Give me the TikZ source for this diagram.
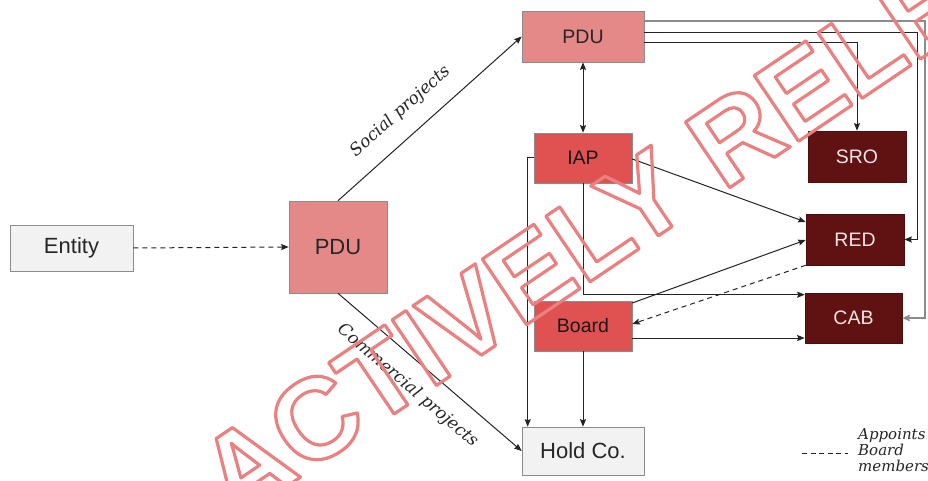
\documentclass[tikz,border=0pt]{standalone}
\usepackage{fontspec}
\setmainfont{Liberation Sans}
\newfontfamily\labelfont{DejaVu Serif}
\newfontfamily\wmfont{Liberation Sans}
\usetikzlibrary{arrows.meta,calc}
\definecolor{pduc}{RGB}{228,136,136}
\definecolor{iapc}{RGB}{224,82,82}
\definecolor{darkc}{RGB}{96,18,18}
\definecolor{darktext}{RGB}{242,228,228}
\definecolor{greyc}{RGB}{242,242,242}
\definecolor{wmc}{RGB}{234,128,128}
\definecolor{linec}{RGB}{35,35,35}
\tikzset{
  box/.style={draw=black!45, line width=0.6pt, inner sep=0pt, align=center},
  greybox/.style={box, fill=greyc, text=black!85},
  pinkbox/.style={box, fill=pduc, text=black!85},
  redbox/.style={box, fill=iapc, text=black!90},
  darkbox/.style={box, fill=darkc, draw=darkc!80!black, text=darktext},
  conn/.style={draw=linec, line width=1pt},
  arr/.style={conn, -{Stealth[length=7.5pt,width=6pt,inset=1pt]}},
  darr/.style={conn, {Stealth[length=7.5pt,width=6pt,inset=1pt]}-{Stealth[length=7.5pt,width=6pt,inset=1pt]}},
  greyarr/.style={draw=black!45, line width=1.8pt, -{Stealth[length=7.5pt,width=6.5pt,inset=1pt]}},
  slabel/.style={font=\labelfont\itshape\fontsize{17}{19}\selectfont, text=black!85, inner sep=0pt, sloped},
  bigfont/.style={font=\fontsize{22}{24}\selectfont},
  smallfont/.style={font=\fontsize{19.5}{22}\selectfont}
}
\begin{document}
\begin{tikzpicture}[x=1pt,y=-1pt]
\useasboundingbox (0,0) rectangle (928,481);
\clip (0,0) rectangle (928,481);
\fill[white] (0,0) rectangle (928,481);

% nodes
\node[greybox, bigfont, minimum width=123pt, minimum height=46pt] (entity) at (71.5,248) {Entity};
\node[pinkbox, bigfont, minimum width=98pt, minimum height=92pt] (pdul) at (338,247) {PDU};
\node[pinkbox, smallfont, minimum width=122pt, minimum height=51pt] (pdut) at (583,36.5) {PDU};
\node[redbox, smallfont, minimum width=98pt, minimum height=50pt] (iap) at (583,158) {IAP};
\node[redbox, smallfont, minimum width=98pt, minimum height=50pt] (board) at (583,326) {Board};
\node[greybox, bigfont, minimum width=122pt, minimum height=48pt] (hold) at (583,451) {Hold Co.};
\node[darkbox, smallfont, minimum width=98pt, minimum height=51pt] (sro) at (857,156.5) {SRO};
\node[darkbox, smallfont, minimum width=98pt, minimum height=51pt] (red) at (855,239.5) {RED};
\node[darkbox, smallfont, minimum width=97pt, minimum height=50pt] (cab) at (853.5,318) {CAB};

% connectors
\draw[arr, dashed, dash pattern=on 5pt off 4pt] (entity.east) -- (pdul.west);
\draw[arr] (pdul.north) -- node[slabel, pos=0.43, above=16pt] {Social projects} (pdut.west);
\draw[arr] (pdul.south) -- node[slabel, pos=0.467, below=16pt] {Commercial projects} (hold.west);
\draw[darr] (pdut.south) -- (iap.north);

\draw[greyarr] ([yshift=15.5pt]pdut.east) -- ++(281,0) |- (cab.east);
\draw[arr] ([yshift=3.5pt]pdut.east) -- ++(273,0) |- (red.east);
\draw[arr] ([yshift=-6.5pt]pdut.east) -| (sro.north);

\draw[arr] (iap.west) -- ++(-6,0) -- ([xshift=6pt]hold.north west);
\draw[arr] (iap.south) |- ([yshift=-2pt]cab.north west);
\draw[arr] ([yshift=-1pt]iap.east) -- ([yshift=17.5pt]red.west);
\draw[arr] ([yshift=23pt]board.east) -- ([yshift=-0.5pt]red.west);
\draw[arr, dashed, dash pattern=on 5pt off 4pt] (red.south west) -- ([yshift=2pt]board.east);
\draw[arr] ([yshift=-12pt]board.east) -- ([yshift=-20pt]cab.west);
\draw[arr] (board.south) -- (hold.north);

% legend
\coordinate (lgs) at (802,453);
\coordinate (lge) at (848,453);
\draw[conn, dashed, dash pattern=on 5pt off 3.5pt] (lgs) -- (lge);
\node[font=\labelfont\itshape\fontsize{15}{16}\selectfont, text=black!85, align=left, anchor=north west, inner sep=0pt] (legend) at (858,428) {Appoints\\Board\\members};

% watermark
\node[rotate=34, anchor=base west, inner sep=0pt, text=wmc,
      font=\wmfont\bfseries\fontsize{115}{115}\selectfont] (wm) at (234,522)
      {\special{pdf:literal direct 1 Tr 3.2 w 1 j}ACTIVELY RELE};
\end{tikzpicture}
\end{document}
